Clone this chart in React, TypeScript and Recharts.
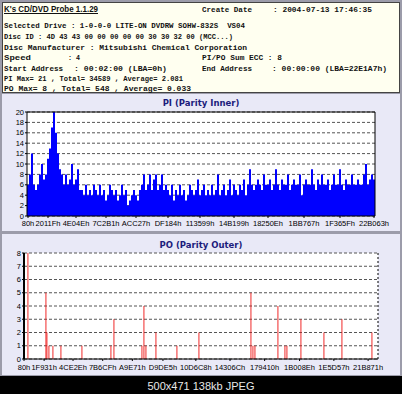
import { BarChart, Bar, XAxis, YAxis, CartesianGrid, ReferenceLine } from 'recharts'

// PI errors per sample left to right
const piValues = [
  6, 8, 12, 6, 5, 6, 8, 10, 7, 8, 11, 13, 17, 21, 16, 12, 9, 8, 6, 8, 6, 7, 10, 6, 7, 9, 5,
  5, 4, 6, 4, 5, 4, 6, 5, 4, 6, 4, 5, 3, 4, 6, 5, 4, 5, 3, 4, 6, 4, 5, 2, 3, 4, 5, 4, 3, 5,
  6, 8, 5, 6, 8, 5, 7, 8, 5, 6, 8, 5, 6,
  5, 4, 6, 3, 5, 4, 6, 4, 5, 3, 4, 6, 5, 4, 5, 7, 4, 5, 6, 4, 5, 4, 6, 4, 5, 8, 4, 5, 6, 4, 5, 7, 4, 6, 5, 4, 6, 5, 7, 4, 6, 9,
  6, 5, 6, 7, 6, 5, 8, 6, 6, 7, 5, 6, 9, 6, 5, 7, 6, 6, 8, 5, 6, 7, 6, 6, 8, 4, 6, 7, 6, 6, 9,
  6, 5, 7, 6, 8, 6, 6, 7, 5, 6, 8, 6, 6, 9, 6, 5, 7, 6, 6, 8, 6, 6, 7, 6, 6, 8, 10, 6, 7, 8, 7,
]
const piTickLabels = ['80h', '2011Fh', '4E04Eh', '7C2B1h', 'ACC27h', 'DF184h', '113599h', '14B199h', '18250Eh', '1BB767h', '1F365Fh', '22B063h']
const piYTicks = [0, 2, 4, 6, 8, 10, 12, 14, 16, 18, 20]

// PO errors: LBA of each spike and its count
const poLba = [
  25700, 141300, 147700, 160500, 186200, 237600, 372500, 558700, 578000, 757800, 770600, 783500,
  847700, 982500, 1123800, 1457800, 1470600, 1483500, 1631100, 1676100, 1688900, 1778800, 1926500,
  2042100, 2234800,
]
const poValues = [8, 5, 2, 1, 1, 1, 1, 1, 3, 1, 4, 1, 2, 1, 2, 5, 1, 1, 4, 1, 1, 3, 2, 3, 2]
const poTickLabels = ['80h', '1F931h', '4CE2Eh', '7B6CFh', 'A9E71h', 'D9DE5h', '10D6C8h', '14306Ch', '179410h', '1B008Eh', '1E5D57h', '21B871h']
const poYTicks = [0, 1, 2, 3, 4, 5, 6, 7, 8]

const hex = (s: string) => parseInt(s.replace('h', ''), 16)
const toHex = (n: number) => n.toString(16).toUpperCase() + 'h'

const lbaStart = hex(piTickLabels[0])
const lbaEnd = hex(piTickLabels[piTickLabels.length - 1])

const piData = piValues.map((v, i) => ({ i, pi: v }))
const piTickIdx = piTickLabels.map((l) =>
  Math.round(((hex(l) - lbaStart) / (lbaEnd - lbaStart)) * (piValues.length - 1))
)
const piTickName = new Map(piTickIdx.map((idx, k) => [idx, piTickLabels[k]]))

const poData = poLba.map((lba, k) => ({ lba, po: poValues[k] }))

const tickFont = { fontSize: 7.5, fontFamily: '"Liberation Sans", Arial, sans-serif', fill: '#000' }
const mono = { fontFamily: '"Liberation Mono", monospace', fontSize: 8, fontWeight: 'bold' as const, fill: '#111' }

const titleStyle = {
  position: 'absolute' as const,
  top: 4,
  left: 0,
  width: '100%',
  textAlign: 'center' as const,
  font: 'bold 8.5px "DejaVu Sans", sans-serif',
  color: '#1c1c7c',
  lineHeight: '10px',
}

function Header() {
  const L = (x: number, y: number, w: number, s: string) => (
    <text x={x} y={y} textLength={w} lengthAdjust="spacingAndGlyphs" style={{ whiteSpace: 'pre' }} {...mono}>
      {s}
    </text>
  )
  return (
    <svg width={402} height={94} style={{ position: 'absolute', left: 0, top: 0 }}>
      <rect x={2.5} y={2.5} width={397} height={90} fill="#fffff0" stroke="#444" />
      <text x={4} y={12} textLength={94} lengthAdjust="spacingAndGlyphs" fontFamily='"Liberation Sans", Arial, sans-serif' fontSize={9} fontWeight="bold" fill="#111">
        K's CD/DVD Probe 1.1.29
      </text>
      <line x1={4} x2={98} y1={13.5} y2={13.5} stroke="#111" />
      {L(202, 12, 50, 'Create Date')}
      {L(273, 12, 99, ': 2004-07-13 17:46:35')}
      {L(4, 28, 241, 'Selected Drive : 1-0-0-0 LITE-ON DVDRW SOHW-832S  VS04')}
      {L(4, 39, 229, 'Disc ID : 4D 43 43 00 00 00 00 00 30 30 32 00 (MCC...)')}
      {L(4, 50, 243, 'Disc Manufacturer : Mitsubishi Chemical Corporation')}
      {L(4, 60, 27, 'Speed')}
      {L(68, 60, 12, ': 4')}
      {L(202, 60, 80, 'PI/PO Sum ECC : 8')}
      {L(4, 71, 59, 'Start Address')}
      {L(74, 71, 93, ': 00:02:00 (LBA=0h)')}
      {L(202, 71, 50, 'End Address')}
      {L(272, 71, 115, ': 00:00:00 (LBA=22E1A7h)')}
      {L(4, 81, 179, 'PI Max= 21 , Total= 34589 , Average= 2.081')}
      {L(4, 91, 187, 'PO Max= 8 , Total= 548 , Average= 0.033')}
    </svg>
  )
}

export default function App() {
  return (
    <div style={{ position: 'absolute', left: 0, top: 0, width: 402, height: 394, background: '#000', overflow: 'hidden' }}>
      <div style={{ position: 'absolute', left: 0, top: 0, width: 402, height: 376, background: '#9c9caa' }} />
      <Header />

      <div style={{ position: 'absolute', left: 2, top: 94, width: 398, height: 137, background: '#e9e9f7' }}>
        <BarChart
          width={398}
          height={137}
          data={piData}
          margin={{ top: 18, right: 4, bottom: 3, left: 4 }}
          barCategoryGap={0}
          barGap={0}
        >
          <CartesianGrid vertical={false} stroke="#555" strokeDasharray="3 2" fill="#fff" />
          <XAxis
            dataKey="i"
            ticks={piTickIdx}
            interval={0}
            tickFormatter={(v) => piTickName.get(v) ?? ''}
            tick={tickFont}
            tickSize={2}
            tickMargin={3}
            height={12}
            axisLine={{ stroke: '#000' }}
            tickLine={{ stroke: '#000' }}
          />
          <YAxis
            domain={[0, 20]}
            ticks={piYTicks}
            allowDataOverflow
            interval={0}
            width={21}
            tick={tickFont}
            tickSize={2}
            tickMargin={1}
            axisLine={{ stroke: '#000' }}
            tickLine={{ stroke: '#000' }}
          />
          <YAxis
            yAxisId="r"
            orientation="right"
            domain={[0, 20]}
            ticks={piYTicks}
            interval={0}
            width={21}
            tick={{ ...tickFont, textAnchor: 'start' }}
            tickSize={2}
            tickMargin={1}
            axisLine={{ stroke: '#000' }}
            tickLine={{ stroke: '#000' }}
          />
          <ReferenceLine y={20} stroke="#000" />
          <Bar dataKey="pi" fill="#0000ff" isAnimationActive={false} />
        </BarChart>
        <div style={titleStyle}>PI (Parity Inner)</div>
      </div>

      <div style={{ position: 'absolute', left: 2, top: 234, width: 398, height: 141, background: '#e9e9f7' }}>
        <BarChart width={398} height={141} data={poData} margin={{ top: 19, right: 4, bottom: 3, left: 4 }}>
          <CartesianGrid vertical={false} stroke="#555" strokeDasharray="3 2" fill="#fff" />
          <XAxis
            dataKey="lba"
            type="number"
            domain={[lbaStart, lbaEnd]}
            ticks={poTickLabels.map(hex)}
            interval={0}
            tickFormatter={(v) => toHex(v)}
            tick={tickFont}
            tickSize={2}
            tickMargin={4}
            height={13}
            axisLine={{ stroke: '#000' }}
            tickLine={{ stroke: '#000' }}
          />
          <YAxis
            domain={[0, 8]}
            ticks={poYTicks}
            interval={0}
            width={18}
            tick={tickFont}
            tickSize={2}
            tickMargin={1}
            axisLine={{ stroke: '#000', strokeWidth: 2 }}
            tickLine={{ stroke: '#000' }}
          />
          <YAxis
            yAxisId="r"
            orientation="right"
            domain={[0, 8]}
            ticks={poYTicks}
            interval={0}
            width={18}
            tick={{ ...tickFont, textAnchor: 'start' }}
            tickSize={2}
            tickMargin={1}
            axisLine={{ stroke: '#000', strokeDasharray: '2 2' }}
            tickLine={{ stroke: '#000' }}
          />
          <Bar dataKey="po" fill="#ee1111" barSize={2} isAnimationActive={false} />
        </BarChart>
        <div style={{ ...titleStyle, top: 6 }}>PO (Parity Outer)</div>
      </div>

      <div
        style={{
          position: 'absolute',
          left: 0,
          top: 379,
          width: 402,
          textAlign: 'center',
          font: '11px "Liberation Sans", Arial, sans-serif',
          color: '#e8e8e8',
          lineHeight: '14px',
        }}
      >
        500x471 138kb JPEG
      </div>
    </div>
  )
}
